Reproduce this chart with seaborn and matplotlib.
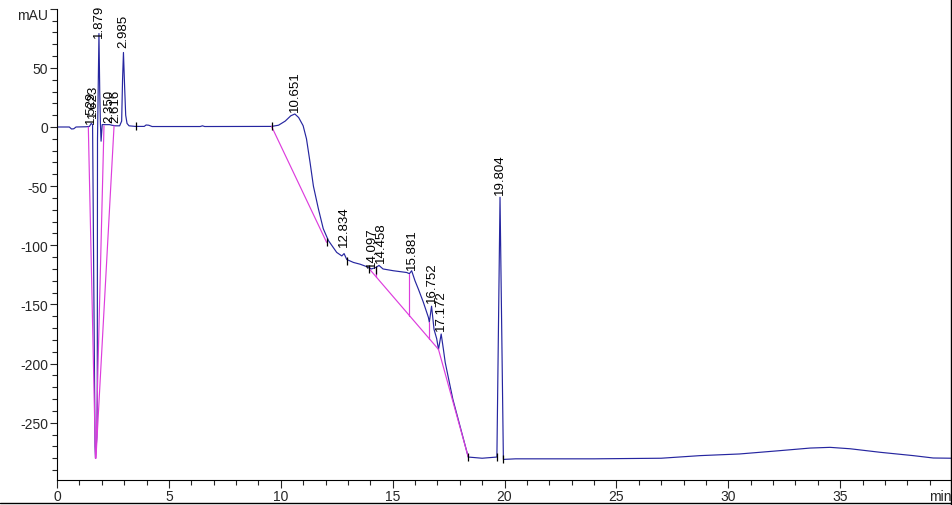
import numpy as np
import pandas as pd
import matplotlib
matplotlib.use('Agg')
import matplotlib.pyplot as plt
from matplotlib.lines import Line2D
from matplotlib.ticker import MultipleLocator
import seaborn as sns

# signal trace (min, mAU)
time_min = [0.0, 0.55, 0.65, 0.75, 0.85, 1.3, 1.45, 1.53, 1.59, 1.70, 1.72, 1.78, 1.80, 1.81,
            1.875, 1.91, 1.94, 1.97, 2.02, 2.35, 2.45, 2.62, 2.80, 2.89, 2.93, 2.97, 3.02, 3.07,
            3.13, 3.22, 3.5, 3.9, 3.98, 4.1, 4.25, 6.4, 6.5, 6.6, 9.59, 9.9, 10.2, 10.45, 10.63,
            10.8, 11.0, 11.15, 11.31, 11.46, 11.68, 11.9, 12.13, 12.5, 12.73, 12.83, 12.95, 13.25,
            13.55, 13.92, 14.05, 14.27, 14.39, 14.57, 15.03, 15.63, 15.75, 15.85, 16.0, 16.15,
            16.37, 16.6, 16.64, 16.74, 16.85, 16.97, 17.05, 17.17, 17.27, 17.35, 17.69, 18.38,
            19.0, 19.66, 19.80, 19.95, 20.5, 24.0, 27.0, 28.74, 30.5, 32.3, 33.66, 34.55, 35.45,
            36.8, 38.27, 39.16, 40.0]
signal_mau = [0.0, 0.0, -1.7, -1.5, 0.0, 0.2, 0.5, 3, 2, -270, -280, -262, -230, -10,
              79, 30, 3, -12, 2, 2, 1.5, 1, 1, 5, 40, 63, 35, 10,
              3, 1, 0.5, 0.5, 1.7, 1.5, 0.4, 0.4, 1.0, 0.4, 0.5, 1.5, 5, 9.5, 11,
              8, 1.1, -10, -30, -50, -69, -86, -96, -106, -109, -107, -112, -114.5,
              -116, -118.6, -120, -118.6, -117, -120, -121.5, -123, -124, -121.5, -130, -137,
              -148, -161, -165, -151.5, -171, -179, -188, -175, -188, -199, -230, -279,
              -280, -279, -59.4, -281, -280.5, -280.5, -280, -277.8, -276.4, -273.6, -271.4, -270.8, -272,
              -275, -277.8, -279.8, -280]

# integration baselines (start time, start mAU, end time, end mAU)
base_t0 = [1.40, 2.10, 2.55, 9.59, 13.96, 17.05, 14.27, 15.75, 16.64]
base_v0 = [0.0, 1.0, 1.0, 0.5, -120, -188, -118.6, -124, -165]
base_t1 = [1.72, 1.73, 1.74, 12.05, 17.05, 18.38, 14.27, 15.75, 16.64]
base_v1 = [-280, -280, -280, -97.5, -188, -279, -126.8, -159.5, -179]

# peak start / end tick marks
mark_t = [3.53, 9.59, 12.05, 12.95, 13.96, 14.27, 18.38, 19.66, 19.95]
mark_v = [0.5, 0.5, -97.5, -113, -120, -121, -279, -279, -281]

# retention time labels and where their bottom sits (mAU)
peak_rt = [1.529, 1.623, 1.879, 2.350, 2.616, 2.985, 10.651, 12.834, 14.097, 14.458,
           15.881, 16.752, 17.172, 19.804]
label_mau = [3, 8.5, 76, 4, 4, 67.6, 13.5, -101, -118, -114, -120, -148, -171.6, -56.6]

x_ticks = [0, 5, 10, 15, 20, 25, 30, 35]
y_ticks = [-250, -200, -150, -100, -50, 0, 50]

sns.set_style("ticks")
plt.rcParams['font.family'] = ['Liberation Sans', 'DejaVu Sans']

fig = plt.figure(figsize=(9.53, 5.06), dpi=100)
ax = fig.add_axes([57 / 953, 1 - 481 / 506, (952 - 57) / 953, (481 - 9.7) / 506])

trace = pd.DataFrame({'time': time_min, 'mAU': signal_mau})
sns.lineplot(data=trace, x='time', y='mAU', sort=False, estimator=None,
             color='#2626a0', lw=0.85, ax=ax)

for t0, v0, t1, v1 in zip(base_t0, base_v0, base_t1, base_v1):
    ax.plot([t0, t1], [v0, v1], color='#dd3ddd', lw=0.85, zorder=3)

ax.plot(mark_t, mark_v, ls='none', marker='|', markersize=6, color='black',
        markeredgewidth=0.9, zorder=4)

for rt, lv in zip(peak_rt, label_mau):
    ax.text(rt, lv, f'{rt:.3f}', rotation=90, ha='center', va='bottom',
            fontsize=9.5, color='black', clip_on=False, zorder=5)

ax.set_xlim(0, 40)
ax.set_ylim(-298.4, 100)
ax.set_xlabel('')
ax.set_ylabel('')

ax.set_xticks(x_ticks)
ax.set_xticklabels([str(v) for v in x_ticks])
ax.xaxis.set_minor_locator(MultipleLocator(1))
ax.set_yticks(y_ticks + [100])
ax.set_yticklabels([str(v) for v in y_ticks] + [''])
ax.yaxis.set_minor_locator(MultipleLocator(10))

ax.tick_params(axis='x', which='major', length=5.5, width=0.8, pad=1, labelsize=10)
ax.tick_params(axis='x', which='minor', length=3.5, width=0.8)
ax.tick_params(axis='y', which='major', length=5, width=0.8, pad=1.5, labelsize=10)
ax.tick_params(axis='y', which='minor', length=3.5, width=0.8)

for side in ['top', 'right']:
    ax.spines[side].set_visible(False)
for side in ['left', 'bottom']:
    ax.spines[side].set_linewidth(0.8)
    ax.spines[side].set_color('black')

# unit labels in the tick positions
ax.annotate('mAU', xy=(0, 95), xycoords=('axes fraction', 'data'),
            xytext=(-6.5, 0), textcoords='offset points',
            ha='right', va='center', fontsize=10)
ax.annotate('min', xy=(40, 0), xycoords=('data', 'axes fraction'),
            xytext=(0, -6.5), textcoords='offset points',
            ha='right', va='top', fontsize=10)

# window frame on right and bottom
fig.add_artist(Line2D([951 / 953, 951 / 953], [0, 1], transform=fig.transFigure,
                      color='black', lw=1.0))
fig.add_artist(Line2D([0, 1], [1 - 504 / 506, 1 - 504 / 506], transform=fig.transFigure,
                      color='black', lw=1.0))

fig.savefig('out.png', dpi=100)
plt.close(fig)
